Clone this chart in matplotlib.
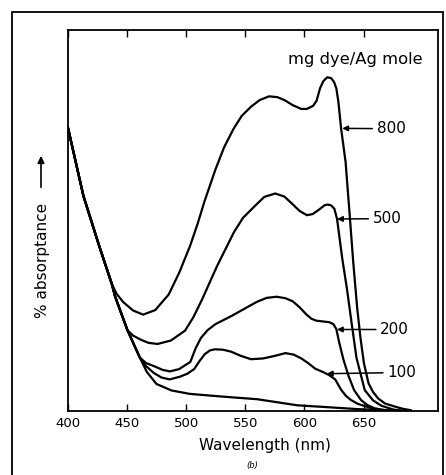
import matplotlib.pyplot as plt
from matplotlib.patches import Rectangle

plt.rcParams['font.family'] = ['DejaVu Sans']

# wavelength (nm) / % absorptance
wl_800 = [400, 413, 426.5, 437, 441, 446.7, 455, 463.5, 473.8, 485.2, 494.2, 503.2, 509.8, 515.4,
          524.6, 532, 539.9, 547, 554.9, 562, 570, 577, 583.2, 590, 597.3, 602, 607.3, 610.2,
          613.3, 616, 619.3, 622.5, 625, 627, 628.7, 631, 634.8, 638.1, 641.3, 644.6, 647.4,
          650.3, 654.2, 658, 662.4, 668, 675, 683, 690]
ab_800 = [74.3, 56.5, 43.2, 33.4, 30.8, 28.6, 26.4, 25.3, 26.5, 30.6, 36.4, 43.3, 49.3, 55.0,
          63.3, 69.2, 74.0, 77.5, 79.9, 81.6, 82.6, 82.4, 81.6, 80.3, 79.3, 79.3, 80.1, 81.4,
          84.8, 86.6, 87.6, 87.4, 86.4, 84.7, 81.2, 74.2, 65.4, 52.2, 39.0, 27.1, 19.2,
          12.6, 7.3, 5.0, 3.3, 2.0, 1.3, 0.6, 0.2]

wl_500 = [400, 413, 426.5, 437, 439.9, 450.3, 455, 461.7, 468, 475.7, 487, 499, 506, 513.3, 526,
          540.3, 548, 558, 566, 575.3, 583, 589.6, 596, 602.1, 607, 612.5, 617, 619.5, 622.5,
          625.3, 627.6, 632, 636, 639.5, 644, 651, 658, 665, 675, 684]
ab_500 = [74.3, 56.5, 43.2, 33.4, 30.0, 21.2, 19.8, 18.7, 17.9, 17.6, 18.5, 21.1, 24.6, 29.2, 38.0,
          46.9, 50.7, 53.8, 56.2, 57.1, 56.3, 54.4, 52.5, 51.4, 51.7, 52.9, 54.0, 54.2, 54.0,
          53.1, 50.4, 40.0, 32.0, 24.0, 14.0, 5.5, 2.8, 1.4, 0.4, 0.0]

wl_200 = [400, 413, 426.5, 437, 439.9, 450.3, 460.8, 466, 472.6, 480, 486.2, 494, 503.5, 508,
          512.5, 518, 524.7, 538.6, 549, 559.4, 568, 576.5, 584, 590.1, 596, 601.8, 606, 610.2,
          616, 621.2, 624.5, 627, 629.4, 633, 637.2, 642, 647.8, 653, 659.5, 667, 675]
ab_200 = [74.3, 56.5, 43.2, 33.4, 30.0, 21.2, 14.0, 12.6, 11.8, 10.8, 10.4, 11.0, 12.9, 16.5,
          19.2, 21.2, 22.8, 25.0, 26.8, 28.6, 29.7, 30.0, 29.6, 28.8, 27.2, 25.3, 24.2, 23.7,
          23.5, 23.3, 22.8, 21.5, 18.0, 13.5, 9.3, 5.5, 2.9, 1.6, 0.7, 0.3, 0.0]

wl_100 = [400, 413, 426.5, 437, 439.9, 450.3, 460.8, 466, 472.5, 479, 486, 494.6, 501, 506.7, 511,
          515.6, 520, 524.2, 531, 537.8, 546, 554.8, 565, 575.3, 583.9, 591, 597.4, 603, 609.2,
          616, 621, 626, 631, 635, 639.3, 645, 651, 658, 664.5, 675]
ab_100 = [74.3, 56.5, 43.2, 33.4, 30.0, 21.2, 14.0, 11.8, 10.0, 8.8, 8.3, 9.0, 9.8, 11.0, 13.0,
          14.9, 15.9, 16.2, 16.1, 15.6, 14.5, 13.6, 13.8, 14.5, 15.2, 14.8, 13.8, 12.6, 11.1,
          10.2, 9.4, 8.3, 5.6, 4.0, 2.9, 1.9, 1.3, 0.6, 0.2, 0.0]

wl_0 = [400, 413, 426.5, 437, 439.9, 450.3, 460.8, 466.6, 474.8, 487.5, 503, 530, 560, 594, 620,
        645, 670, 690]
ab_0 = [74.3, 56.5, 43.2, 33.4, 30.0, 21.2, 14.0, 10.3, 7.1, 5.4, 4.5, 3.8, 3.1, 1.5, 1.0,
        0.5, 0.2, 0.0]

# curve labels: text, arrow tip (wl, ab), text position (wl, ab)
labels = ['800', '500', '200', '100']
tips = [(632, 74.2), (627.6, 50.4), (627.5, 21.4), (619, 9.8)]
text_pos = [(661, 74.1), (657.6, 50.5), (664, 21.4), (670, 10.1)]

fig = plt.figure(figsize=(4.46, 4.75), dpi=100)
ax = fig.add_axes([0.1525, 0.1347, 0.8296, 0.802])

for wl, ab in [(wl_800, ab_800), (wl_500, ab_500), (wl_200, ab_200), (wl_100, ab_100), (wl_0, ab_0)]:
    ax.plot(wl, ab, color='black', lw=1.6, solid_joinstyle='round')

for lab, tip, pos in zip(labels, tips, text_pos):
    ax.annotate(lab, xy=tip, xytext=pos, ha='left', va='center', fontsize=11,
                arrowprops=dict(arrowstyle='-|>', color='black', lw=1.1,
                                mutation_scale=8, shrinkA=1, shrinkB=0))

ax.text(643, 92.4, 'mg dye/Ag mole', ha='center', va='center', fontsize=11.8)

ax.set_xlim(400, 713)
ax.set_ylim(0, 100)
ax.set_xticks([400, 450, 500, 550, 600, 650])
ax.tick_params(axis='x', direction='in', top=True, length=5, width=1, labelsize=9.5, pad=4)
ax.tick_params(axis='y', left=False, labelleft=False)
for s in ax.spines.values():
    s.set_linewidth(1.3)

ax.text(-0.068, 0.394, '% absorptance', transform=ax.transAxes, rotation=90,
        ha='center', va='center', fontsize=11)
ax.annotate('', xy=(-0.073, 0.677), xytext=(-0.073, 0.58), xycoords='axes fraction',
            textcoords='axes fraction',
            arrowprops=dict(arrowstyle='-|>', color='black', lw=1.2, mutation_scale=10))

fig.text(0.594, 0.063, 'Wavelength (nm)', ha='center', va='center', fontsize=11)
fig.text(0.565, 0.019, '(b)', ha='center', va='center', fontsize=6, style='italic')

# outer frame of the scanned page
fig.add_artist(Rectangle((12 / 446, -0.1), (443 - 12) / 446, 0.975 + 0.1,
                         transform=fig.transFigure, fill=False, lw=1.3, color='black'))

fig.savefig('out.png', dpi=100)
